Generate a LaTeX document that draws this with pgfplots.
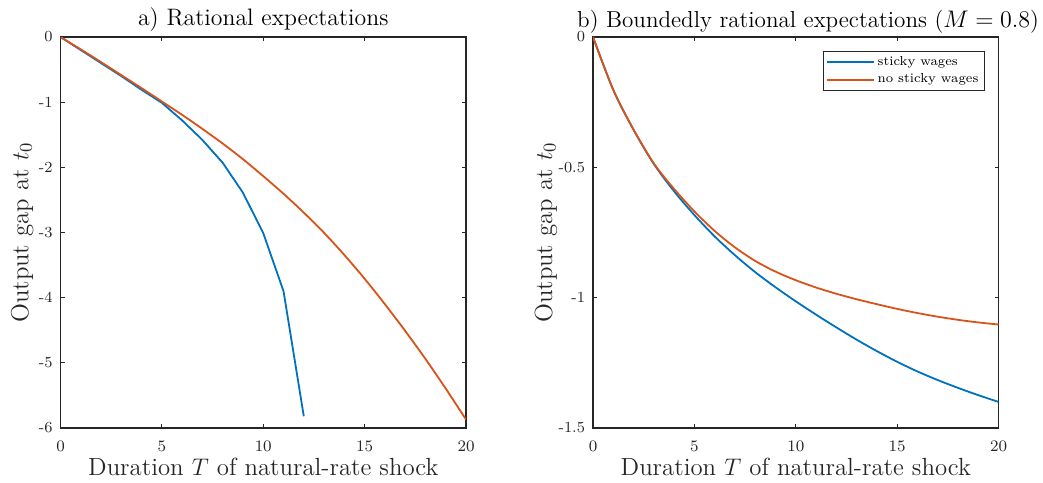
\documentclass[border=0pt]{standalone}
\usepackage{pgfplots}
\pgfplotsset{compat=1.18}
\definecolor{mblue}{HTML}{0072BD}
\definecolor{morange}{HTML}{D95319}
\definecolor{axc}{HTML}{262626}

\pgfplotsset{mlab/.style={
  scale only axis, width=202.75pt, height=195.5pt,
  xmin=0, xmax=20, xtick={0,5,10,15,20},
  tick align=inside, major tick length=2pt,
  axis line style={draw=axc, line width=0.55pt},
  tick style={draw=axc, line width=0.5pt},
  every tick label/.append style={font=\fontsize{7.7}{9}\selectfont, text=axc},
  xticklabel style={yshift=-3pt},
  yticklabel style={xshift=-0.5pt},
  xlabel={Duration $T$ of natural-rate shock},
  ylabel={Output gap at $t_0$},
  label style={font=\fontsize{12.4}{14}\selectfont, text=axc},
  xlabel style={at={(axis description cs:0.5,-0.122)}, anchor=base},
  every axis title/.style={at={(axis description cs:0.5,1)}, anchor=base,
               font=\fontsize{11.9}{13}\selectfont},
  every axis plot/.append style={line width=0.9pt},
}}

\begin{document}
\begin{tikzpicture}
\path[use as bounding box] (0,0) rectangle (521.5pt,241pt);

% a) rational expectations
\begin{axis}[mlab, at={(30.25pt,27pt)}, anchor=south west,
  title={a) Rational expectations},
  title style={yshift=5.6pt},
  ylabel style={at={(axis description cs:-0.0794,0.5)}, anchor=base},
  ymin=-6, ymax=0, ytick={-6,-5,-4,-3,-2,-1,0},
  yticklabels={-6,-5,-4,-3,-2,-1,0}]
\addplot[mblue] coordinates {
 (0,0) (1,-0.2) (2,-0.4) (3,-0.6) (4,-0.81) (5,-1.01) (6,-1.28)
 (7,-1.58) (8,-1.93) (9,-2.39) (10,-3.01) (11,-3.90) (12,-5.82)};
\addplot[morange, smooth] coordinates {
 (0,0) (1,-0.19) (2,-0.385) (3,-0.585) (4,-0.785) (5,-0.99) (6,-1.195)
 (7,-1.41) (8,-1.635) (9,-1.875) (10,-2.135) (11,-2.405) (12,-2.695)
 (13,-3.005) (14,-3.345) (15,-3.71) (16,-4.10) (17,-4.51) (18,-4.94)
 (19,-5.395) (20,-5.87)};
\end{axis}

% b) boundedly rational expectations
\begin{axis}[mlab, at={(296.5pt,27pt)}, anchor=south west,
  title={b) Boundedly rational expectations ($M=0.8$)},
  title style={at={(axis description cs:1,1)}, anchor=base east,
    yshift=4.6pt, xshift=23.8pt, font=\fontsize{11.55}{13}\selectfont},
  ylabel style={at={(axis description cs:-0.101,0.5)}, anchor=base},
  ymin=-1.5, ymax=0, ytick={-1.5,-1,-0.5,0},
  yticklabels={-1.5,-1,-0.5,0},
  legend style={at={(rel axis cs:1,1)}, anchor=north east,
    xshift=-7pt, yshift=-7pt, draw=axc, line width=0.5pt,
    font=\fontsize{6.5}{7.5}\selectfont, inner xsep=1.6pt, inner ysep=1.15pt,
    row sep=0.45pt,
    nodes={inner xsep=1.2pt, inner ysep=1.2pt, text height=4.5pt, text depth=1.5pt}},
  legend cell align=left,
  legend image code/.code={\draw[#1] (0pt,0pt) -- (23.5pt,0pt);}]
\addplot[mblue, smooth] coordinates {
 (0,0) (1,-0.203) (2,-0.356) (3,-0.487) (4,-0.592) (5,-0.683) (6,-0.765)
 (7,-0.837) (8,-0.902) (9,-0.960) (10,-1.014) (11,-1.065) (12,-1.114)
 (13,-1.161) (14,-1.205) (15,-1.246) (16,-1.283) (17,-1.316) (18,-1.346)
 (19,-1.374) (20,-1.400)};
\addlegendentry{sticky wages}
\addplot[morange, smooth] coordinates {
 (0,0) (1,-0.203) (2,-0.355) (3,-0.485) (4,-0.583) (5,-0.669) (6,-0.744)
 (7,-0.807) (8,-0.859) (9,-0.900) (10,-0.933) (11,-0.961) (12,-0.985)
 (13,-1.006) (14,-1.025) (15,-1.043) (16,-1.059) (17,-1.073) (18,-1.085)
 (19,-1.095) (20,-1.103)};
\addlegendentry{no sticky wages}
\end{axis}
\end{tikzpicture}
\end{document}
